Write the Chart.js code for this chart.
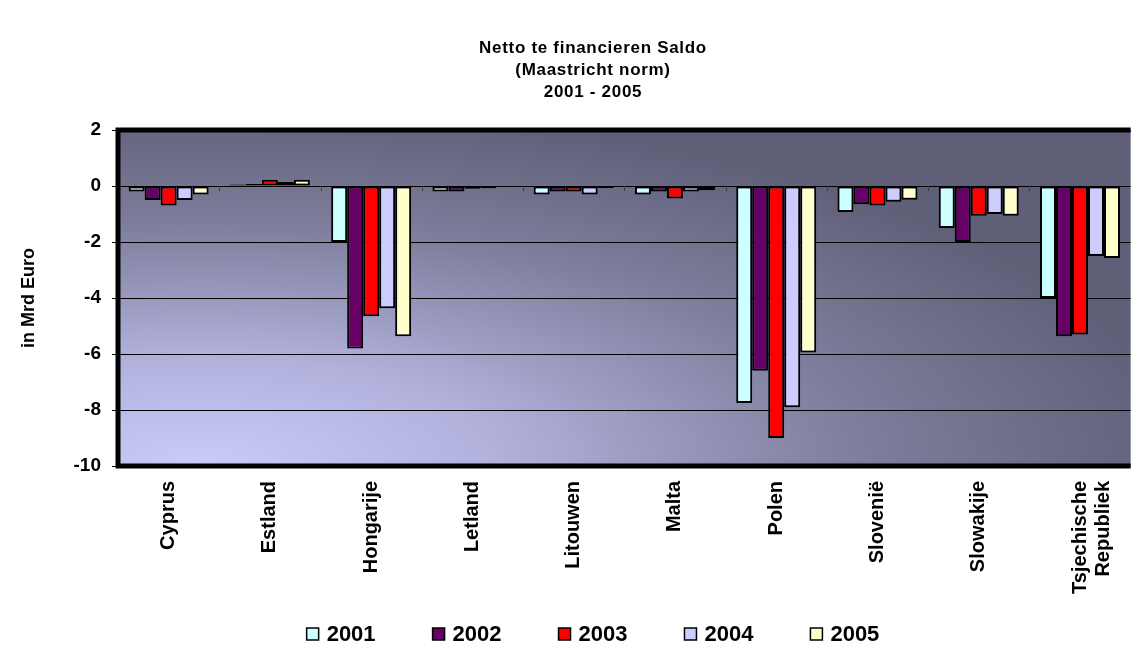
<!DOCTYPE html>
<html>
<head>
<meta charset="utf-8">
<script src="https://cdn.jsdelivr.net/npm/chart.js@4/dist/chart.umd.min.js"></script>
<style>
  html, body { margin: 0; padding: 0; background: #fff; }
  #wrap { width: 1133px; height: 645px; position: relative; }
</style>
</head>
<body>
<div id="wrap"><canvas id="saldo"></canvas></div>
<script>
// data (Mrd Euro)
const countries = ['Cyprus', 'Estland', 'Hongarije', 'Letland', 'Litouwen', 'Malta', 'Polen', 'Slovenië', 'Slowakije', ['Tsjechische', 'Republiek']];
const years = ['2001', '2002', '2003', '2004', '2005'];
const saldo2001 = [-0.2, 0.05, -2.0, -0.2, -0.3, -0.3, -7.75, -0.93, -1.5, -4.0];
const saldo2002 = [-0.5, 0.07, -5.8, -0.2, -0.2, -0.2, -6.6, -0.65, -2.0, -5.37];
const saldo2003 = [-0.7, 0.22, -4.65, -0.1, -0.2, -0.45, -9.0, -0.7, -1.06, -5.3];
const saldo2004 = [-0.5, 0.14, -4.37, -0.08, -0.3, -0.2, -7.9, -0.56, -1.0, -2.5];
const saldo2005 = [-0.3, 0.22, -5.37, -0.02, -0.07, -0.15, -5.95, -0.49, -1.06, -2.57];
const yTicks = [2, 0, -2, -4, -6, -8, -10];
const titleLines = ['Netto te financieren Saldo', '(Maastricht norm)', '2001 - 2005'];

const colors = ['#ccffff', '#660066', '#ff0000', '#ccccff', '#ffffcc'];
const FONT = '"Liberation Sans", Arial, Helvetica, sans-serif';

// gradient background behind the plot area
const plotBackground = {
  id: 'plotBackground',
  beforeDraw(chart) {
    const { ctx, chartArea: a } = chart;
    const w = a.right - a.left, h = a.bottom - a.top;
    const r = w * 0.98;
    ctx.save();
    ctx.beginPath();
    ctx.rect(a.left, a.top, w, h);
    ctx.clip();
    ctx.translate(a.left + w * 0.08, a.bottom);
    ctx.scale(1, (h * 1.08) / r);
    const g = ctx.createRadialGradient(0, 0, 0, 0, 0, r);
    g.addColorStop(0, '#cbcbfa');
    g.addColorStop(0.3, '#b1b1dc');
    g.addColorStop(0.65, '#80809f');
    g.addColorStop(1, '#5f5f78');
    ctx.fillStyle = g;
    ctx.fillRect(-w, -r * 2, w * 3, r * 3);
    ctx.restore();
  }
};

// thick frame and small category ticks on the zero line
const plotFrame = {
  id: 'plotFrame',
  afterDatasetsDraw(chart) {
    const { ctx, chartArea: a, scales } = chart;
    const x = scales.x, y = scales.y;
    const y0 = y.getPixelForValue(0);
    ctx.save();
    ctx.strokeStyle = '#3a3a4a';
    ctx.lineWidth = 1;
    for (let i = 1; i < countries.length; i++) {
      const px = Math.round((x.getPixelForTick(i - 1) + x.getPixelForTick(i)) / 2) + 0.5;
      ctx.beginPath();
      ctx.moveTo(px, y0);
      ctx.lineTo(px, y0 + 5);
      ctx.stroke();
    }
    ctx.strokeStyle = '#000';
    ctx.lineWidth = 5;
    ctx.beginPath();
    ctx.moveTo(a.right, a.top);
    ctx.lineTo(a.left, a.top);
    ctx.lineTo(a.left, a.bottom);
    ctx.lineTo(a.right, a.bottom);
    ctx.stroke();
    ctx.restore();
  }
};

// title and legend, centred like the original (x ~ 593)
const titleAndLegend = {
  id: 'titleAndLegend',
  afterDraw(chart) {
    const ctx = chart.ctx;
    const cx = 593;
    ctx.save();
    ctx.fillStyle = '#000';
    ctx.textAlign = 'center';
    ctx.textBaseline = 'middle';
    ctx.font = 'bold 17px ' + FONT;
    if ('letterSpacing' in ctx) ctx.letterSpacing = '0.7px';
    titleLines.forEach((t, i) => ctx.fillText(t, cx, 48 + i * 22));
    if ('letterSpacing' in ctx) ctx.letterSpacing = '0px';

    ctx.font = 'bold 22px ' + FONT;
    ctx.textAlign = 'left';
    const box = 12, gap = 8, itemGap = 57, ly = 634;
    const items = chart.data.datasets.map(ds => ({ ds, w: box + gap + ctx.measureText(ds.label).width }));
    const total = items.reduce((s, it) => s + it.w, 0) + itemGap * (items.length - 1);
    let lx = cx - total / 2;
    items.forEach(it => {
      ctx.fillStyle = it.ds.backgroundColor;
      ctx.fillRect(lx, ly - box / 2, box, box);
      ctx.strokeStyle = '#000';
      ctx.lineWidth = 1.5;
      ctx.strokeRect(lx, ly - box / 2, box, box);
      ctx.fillStyle = '#000';
      ctx.fillText(it.ds.label, lx + box + gap, ly + 1);
      lx += it.w + itemGap;
    });
    ctx.restore();
  }
};

const series = [saldo2001, saldo2002, saldo2003, saldo2004, saldo2005];

new Chart(document.getElementById('saldo'), {
  type: 'bar',
  data: {
    labels: countries,
    datasets: years.map((yr, i) => ({
      label: yr,
      data: series[i],
      backgroundColor: colors[i],
      borderColor: '#000',
      borderWidth: 2,
      borderSkipped: false,
      barPercentage: 1.0,
      categoryPercentage: 0.79
    }))
  },
  options: {
    responsive: true,
    maintainAspectRatio: false,
    animation: false,
    layout: { padding: { top: 130, bottom: 39, left: 0, right: 0 } },
    plugins: {
      legend: { display: false },
      title: { display: false },
      tooltip: { enabled: false }
    },
    scales: {
      x: {
        afterFit(scale) { scale.height = 140; },
        grid: { display: false },
        border: { display: false },
        ticks: {
          autoSkip: false,
          maxRotation: 90,
          minRotation: 90,
          padding: 7,
          color: '#000',
          font: { family: FONT, size: 20, weight: 'bold', lineHeight: 1.15 }
        }
      },
      y: {
        min: -10,
        max: 2,
        afterFit(scale) { scale.width = 118; },
        afterBuildTicks(scale) { scale.ticks = yTicks.map(v => ({ value: v })); },
        grid: { color: '#000', lineWidth: 1, tickLength: 6, tickColor: '#000' },
        border: { display: false },
        ticks: {
          padding: 11,
          color: '#000',
          font: { family: FONT, size: 19, weight: 'bold' }
        },
        title: {
          display: true,
          text: 'in Mrd Euro',
          color: '#000',
          padding: { top: 18, bottom: 0 },
          font: { family: FONT, size: 18, weight: 'bold' }
        }
      }
    }
  },
  plugins: [plotBackground, plotFrame, titleAndLegend]
});
</script>
</body>
</html>
